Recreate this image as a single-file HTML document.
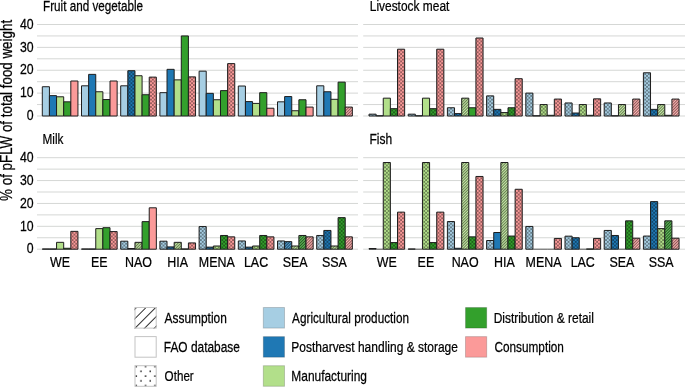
<!DOCTYPE html>
<html><head><meta charset="utf-8"><style>
html,body{margin:0;padding:0;background:#fff;}
svg{display:block;}
text{font-family:"Liberation Sans",sans-serif;fill:#000;stroke:#000;stroke-width:0.25px;}
svg{will-change:transform;}
.g{stroke:#d5d7d5;stroke-width:1;}
.b{fill:none;stroke:#1e1e1e;stroke-width:1;}
</style></head><body>
<svg width="685" height="387" viewBox="0 0 685 387">
<rect width="685" height="387" fill="#fff"/>
<defs>
<pattern id="dots" x="3.6" y="0" width="3.64" height="3.64" patternUnits="userSpaceOnUse">
<circle cx="0" cy="0" r="0.68" fill="#000"/>
<circle cx="3.64" cy="0" r="0.68" fill="#000"/>
<circle cx="0" cy="3.64" r="0.68" fill="#000"/>
<circle cx="3.64" cy="3.64" r="0.68" fill="#000"/>
<circle cx="1.82" cy="1.82" r="0.68" fill="#000"/>
</pattern>
<pattern id="hatch" width="2.0" height="2.0" patternUnits="userSpaceOnUse" patternTransform="rotate(45)">
<rect x="0" y="0" width="0.55" height="2.0" fill="#000" fill-opacity="0.8"/>
<rect x="0.95" y="0" width="0.8" height="2.0" fill="#fff" fill-opacity="0.35"/>
</pattern>
<pattern id="hatchL" x="-3.4" y="0" width="6.8" height="6.8" patternUnits="userSpaceOnUse" patternTransform="translate(134.6,328.6) rotate(45)">
<rect x="2.95" y="0" width="0.9" height="6.8" fill="#1a1a1a"/>
</pattern>
<pattern id="dotsL" x="134.3" y="364.6" width="9.3" height="9.5" patternUnits="userSpaceOnUse">
<circle cx="2" cy="2" r="0.8" fill="#000"/>
<circle cx="6.65" cy="6.75" r="0.8" fill="#000"/>
</pattern>
</defs>
<line x1="37.0" y1="116.00" x2="358.0" y2="116.00" class="g"/>
<line x1="37.0" y1="104.56" x2="358.0" y2="104.56" class="g"/>
<line x1="37.0" y1="93.12" x2="358.0" y2="93.12" class="g"/>
<line x1="37.0" y1="81.69" x2="358.0" y2="81.69" class="g"/>
<line x1="37.0" y1="70.25" x2="358.0" y2="70.25" class="g"/>
<line x1="37.0" y1="58.81" x2="358.0" y2="58.81" class="g"/>
<line x1="37.0" y1="47.38" x2="358.0" y2="47.38" class="g"/>
<line x1="37.0" y1="35.94" x2="358.0" y2="35.94" class="g"/>
<line x1="37.0" y1="24.50" x2="358.0" y2="24.50" class="g"/>
<line x1="363.2" y1="116.00" x2="685.0" y2="116.00" class="g"/>
<line x1="363.2" y1="104.56" x2="685.0" y2="104.56" class="g"/>
<line x1="363.2" y1="93.12" x2="685.0" y2="93.12" class="g"/>
<line x1="363.2" y1="81.69" x2="685.0" y2="81.69" class="g"/>
<line x1="363.2" y1="70.25" x2="685.0" y2="70.25" class="g"/>
<line x1="363.2" y1="58.81" x2="685.0" y2="58.81" class="g"/>
<line x1="363.2" y1="47.38" x2="685.0" y2="47.38" class="g"/>
<line x1="363.2" y1="35.94" x2="685.0" y2="35.94" class="g"/>
<line x1="363.2" y1="24.50" x2="685.0" y2="24.50" class="g"/>
<line x1="37.0" y1="249.20" x2="358.0" y2="249.20" class="g"/>
<line x1="37.0" y1="237.76" x2="358.0" y2="237.76" class="g"/>
<line x1="37.0" y1="226.32" x2="358.0" y2="226.32" class="g"/>
<line x1="37.0" y1="214.89" x2="358.0" y2="214.89" class="g"/>
<line x1="37.0" y1="203.45" x2="358.0" y2="203.45" class="g"/>
<line x1="37.0" y1="192.01" x2="358.0" y2="192.01" class="g"/>
<line x1="37.0" y1="180.57" x2="358.0" y2="180.57" class="g"/>
<line x1="37.0" y1="169.14" x2="358.0" y2="169.14" class="g"/>
<line x1="37.0" y1="157.70" x2="358.0" y2="157.70" class="g"/>
<line x1="363.2" y1="249.20" x2="685.0" y2="249.20" class="g"/>
<line x1="363.2" y1="237.76" x2="685.0" y2="237.76" class="g"/>
<line x1="363.2" y1="226.32" x2="685.0" y2="226.32" class="g"/>
<line x1="363.2" y1="214.89" x2="685.0" y2="214.89" class="g"/>
<line x1="363.2" y1="203.45" x2="685.0" y2="203.45" class="g"/>
<line x1="363.2" y1="192.01" x2="685.0" y2="192.01" class="g"/>
<line x1="363.2" y1="180.57" x2="685.0" y2="180.57" class="g"/>
<line x1="363.2" y1="169.14" x2="685.0" y2="169.14" class="g"/>
<line x1="363.2" y1="157.70" x2="685.0" y2="157.70" class="g"/>
<g transform="translate(42.30,116.00)"><path d="M0,0V-29.28H7.13V0Z" fill="#a6cee3"/><path d="M0,0V-29.28H7.13V0Z" class="b"/></g>
<g transform="translate(49.43,116.00)"><path d="M0,0V-20.36H7.13V0Z" fill="#1f78b4"/><path d="M0,0V-20.36H7.13V0Z" class="b"/></g>
<g transform="translate(56.56,116.00)"><path d="M0,0V-19.21H7.13V0Z" fill="#b2df8a"/><path d="M0,0V-19.21H7.13V0Z" class="b"/></g>
<g transform="translate(63.69,116.00)"><path d="M0,0V-14.18H7.13V0Z" fill="#33a02c"/><path d="M0,0V-14.18H7.13V0Z" class="b"/></g>
<g transform="translate(70.82,116.00)"><path d="M0,0V-35.00H7.13V0Z" fill="#fb9a99"/><path d="M0,0V-35.00H7.13V0Z" class="b"/></g>
<g transform="translate(81.50,116.00)"><path d="M0,0V-30.20H7.13V0Z" fill="#a6cee3"/><path d="M0,0V-30.20H7.13V0Z" class="b"/></g>
<g transform="translate(88.63,116.00)"><path d="M0,0V-41.63H7.13V0Z" fill="#1f78b4"/><path d="M0,0V-41.63H7.13V0Z" class="b"/></g>
<g transform="translate(95.76,116.00)"><path d="M0,0V-24.25H7.13V0Z" fill="#b2df8a"/><path d="M0,0V-24.25H7.13V0Z" class="b"/></g>
<g transform="translate(102.89,116.00)"><path d="M0,0V-16.47H7.13V0Z" fill="#33a02c"/><path d="M0,0V-16.47H7.13V0Z" class="b"/></g>
<g transform="translate(110.02,116.00)"><path d="M0,0V-35.00H7.13V0Z" fill="#fb9a99"/><path d="M0,0V-35.00H7.13V0Z" class="b"/></g>
<g transform="translate(120.70,116.00)"><path d="M0,0V-30.20H7.13V0Z" fill="#a6cee3"/><path d="M0,0V-30.20H7.13V0Z" class="b"/></g>
<g transform="translate(127.83,116.00)"><path d="M0,0V-45.29H7.13V0Z" fill="#1f78b4"/><path d="M0,0V-45.29H7.13V0Z" fill="url(#dots)"/><path d="M0,0V-45.29H7.13V0Z" class="b"/></g>
<g transform="translate(134.96,116.00)"><path d="M0,0V-40.26H7.13V0Z" fill="#b2df8a"/><path d="M0,0V-40.26H7.13V0Z" class="b"/></g>
<g transform="translate(142.09,116.00)"><path d="M0,0V-21.27H7.13V0Z" fill="#33a02c"/><path d="M0,0V-21.27H7.13V0Z" class="b"/></g>
<g transform="translate(149.22,116.00)"><path d="M0,0V-38.89H7.13V0Z" fill="#fb9a99"/><path d="M0,0V-38.89H7.13V0Z" fill="url(#dots)"/><path d="M0,0V-38.89H7.13V0Z" class="b"/></g>
<g transform="translate(159.90,116.00)"><path d="M0,0V-23.33H7.13V0Z" fill="#a6cee3"/><path d="M0,0V-23.33H7.13V0Z" class="b"/></g>
<g transform="translate(167.03,116.00)"><path d="M0,0V-46.66H7.13V0Z" fill="#1f78b4"/><path d="M0,0V-46.66H7.13V0Z" class="b"/></g>
<g transform="translate(174.16,116.00)"><path d="M0,0V-36.14H7.13V0Z" fill="#b2df8a"/><path d="M0,0V-36.14H7.13V0Z" class="b"/></g>
<g transform="translate(181.29,116.00)"><path d="M0,0V-80.06H7.13V0Z" fill="#33a02c"/><path d="M0,0V-80.06H7.13V0Z" class="b"/></g>
<g transform="translate(188.42,116.00)"><path d="M0,0V-39.12H7.13V0Z" fill="#fb9a99"/><path d="M0,0V-39.12H7.13V0Z" fill="url(#dots)"/><path d="M0,0V-39.12H7.13V0Z" class="b"/></g>
<g transform="translate(199.10,116.00)"><path d="M0,0V-44.84H7.13V0Z" fill="#a6cee3"/><path d="M0,0V-44.84H7.13V0Z" class="b"/></g>
<g transform="translate(206.23,116.00)"><path d="M0,0V-22.65H7.13V0Z" fill="#1f78b4"/><path d="M0,0V-22.65H7.13V0Z" class="b"/></g>
<g transform="translate(213.36,116.00)"><path d="M0,0V-16.24H7.13V0Z" fill="#b2df8a"/><path d="M0,0V-16.24H7.13V0Z" class="b"/></g>
<g transform="translate(220.49,116.00)"><path d="M0,0V-25.39H7.13V0Z" fill="#33a02c"/><path d="M0,0V-25.39H7.13V0Z" class="b"/></g>
<g transform="translate(227.62,116.00)"><path d="M0,0V-52.38H7.13V0Z" fill="#fb9a99"/><path d="M0,0V-52.38H7.13V0Z" fill="url(#dots)"/><path d="M0,0V-52.38H7.13V0Z" class="b"/></g>
<g transform="translate(238.30,116.00)"><path d="M0,0V-29.97H7.13V0Z" fill="#a6cee3"/><path d="M0,0V-29.97H7.13V0Z" class="b"/></g>
<g transform="translate(245.43,116.00)"><path d="M0,0V-14.41H7.13V0Z" fill="#1f78b4"/><path d="M0,0V-14.41H7.13V0Z" class="b"/></g>
<g transform="translate(252.56,116.00)"><path d="M0,0V-12.58H7.13V0Z" fill="#b2df8a"/><path d="M0,0V-12.58H7.13V0Z" class="b"/></g>
<g transform="translate(259.69,116.00)"><path d="M0,0V-23.33H7.13V0Z" fill="#33a02c"/><path d="M0,0V-23.33H7.13V0Z" class="b"/></g>
<g transform="translate(266.82,116.00)"><path d="M0,0V-7.78H7.13V0Z" fill="#fb9a99"/><path d="M0,0V-7.78H7.13V0Z" class="b"/></g>
<g transform="translate(277.50,116.00)"><path d="M0,0V-14.18H7.13V0Z" fill="#a6cee3"/><path d="M0,0V-14.18H7.13V0Z" class="b"/></g>
<g transform="translate(284.63,116.00)"><path d="M0,0V-19.44H7.13V0Z" fill="#1f78b4"/><path d="M0,0V-19.44H7.13V0Z" class="b"/></g>
<g transform="translate(291.76,116.00)"><path d="M0,0V-5.26H7.13V0Z" fill="#b2df8a"/><path d="M0,0V-5.26H7.13V0Z" class="b"/></g>
<g transform="translate(298.89,116.00)"><path d="M0,0V-16.24H7.13V0Z" fill="#33a02c"/><path d="M0,0V-16.24H7.13V0Z" class="b"/></g>
<g transform="translate(306.02,116.00)"><path d="M0,0V-8.92H7.13V0Z" fill="#fb9a99"/><path d="M0,0V-8.92H7.13V0Z" class="b"/></g>
<g transform="translate(316.70,116.00)"><path d="M0,0V-30.20H7.13V0Z" fill="#a6cee3"/><path d="M0,0V-30.20H7.13V0Z" class="b"/></g>
<g transform="translate(323.83,116.00)"><path d="M0,0V-24.25H7.13V0Z" fill="#1f78b4"/><path d="M0,0V-24.25H7.13V0Z" class="b"/></g>
<g transform="translate(330.96,116.00)"><path d="M0,0V-16.70H7.13V0Z" fill="#b2df8a"/><path d="M0,0V-16.70H7.13V0Z" class="b"/></g>
<g transform="translate(338.09,116.00)"><path d="M0,0V-33.86H7.13V0Z" fill="#33a02c"/><path d="M0,0V-33.86H7.13V0Z" class="b"/></g>
<g transform="translate(345.22,116.00)"><path d="M0,0V-8.92H7.13V0Z" fill="#fb9a99"/><path d="M0,0V-8.92H7.13V0Z" fill="url(#hatch)"/><path d="M0,0V-8.92H7.13V0Z" class="b"/></g>
<g transform="translate(369.00,116.00)"><path d="M0,0V-1.83H7.13V0Z" fill="#a6cee3"/><path d="M0,0V-1.83H7.13V0Z" fill="url(#dots)"/><path d="M0,0V-1.83H7.13V0Z" class="b"/></g>
<g transform="translate(376.13,116.00)"><path d="M0,0V-0.23H7.13V0Z" fill="#1f78b4"/><path d="M0,0V-0.23H7.13V0Z" class="b"/></g>
<g transform="translate(383.26,116.00)"><path d="M0,0V-17.84H7.13V0Z" fill="#b2df8a"/><path d="M0,0V-17.84H7.13V0Z" class="b"/></g>
<g transform="translate(390.39,116.00)"><path d="M0,0V-7.32H7.13V0Z" fill="#33a02c"/><path d="M0,0V-7.32H7.13V0Z" fill="url(#dots)"/><path d="M0,0V-7.32H7.13V0Z" class="b"/></g>
<g transform="translate(397.52,116.00)"><path d="M0,0V-66.80H7.13V0Z" fill="#fb9a99"/><path d="M0,0V-66.80H7.13V0Z" fill="url(#dots)"/><path d="M0,0V-66.80H7.13V0Z" class="b"/></g>
<g transform="translate(408.20,116.00)"><path d="M0,0V-1.83H7.13V0Z" fill="#a6cee3"/><path d="M0,0V-1.83H7.13V0Z" fill="url(#dots)"/><path d="M0,0V-1.83H7.13V0Z" class="b"/></g>
<g transform="translate(415.33,116.00)"><path d="M0,0V-0.23H7.13V0Z" fill="#1f78b4"/><path d="M0,0V-0.23H7.13V0Z" class="b"/></g>
<g transform="translate(422.46,116.00)"><path d="M0,0V-17.84H7.13V0Z" fill="#b2df8a"/><path d="M0,0V-17.84H7.13V0Z" class="b"/></g>
<g transform="translate(429.59,116.00)"><path d="M0,0V-7.32H7.13V0Z" fill="#33a02c"/><path d="M0,0V-7.32H7.13V0Z" fill="url(#dots)"/><path d="M0,0V-7.32H7.13V0Z" class="b"/></g>
<g transform="translate(436.72,116.00)"><path d="M0,0V-66.80H7.13V0Z" fill="#fb9a99"/><path d="M0,0V-66.80H7.13V0Z" fill="url(#dots)"/><path d="M0,0V-66.80H7.13V0Z" class="b"/></g>
<g transform="translate(447.40,116.00)"><path d="M0,0V-8.24H7.13V0Z" fill="#a6cee3"/><path d="M0,0V-8.24H7.13V0Z" fill="url(#dots)"/><path d="M0,0V-8.24H7.13V0Z" class="b"/></g>
<g transform="translate(454.53,116.00)"><path d="M0,0V-2.40H7.13V0Z" fill="#1f78b4"/><path d="M0,0V-2.40H7.13V0Z" fill="url(#dots)"/><path d="M0,0V-2.40H7.13V0Z" class="b"/></g>
<g transform="translate(461.66,116.00)"><path d="M0,0V-17.84H7.13V0Z" fill="#b2df8a"/><path d="M0,0V-17.84H7.13V0Z" fill="url(#hatch)"/><path d="M0,0V-17.84H7.13V0Z" class="b"/></g>
<g transform="translate(468.79,116.00)"><path d="M0,0V-8.24H7.13V0Z" fill="#33a02c"/><path d="M0,0V-8.24H7.13V0Z" class="b"/></g>
<g transform="translate(475.92,116.00)"><path d="M0,0V-78.00H7.13V0Z" fill="#fb9a99"/><path d="M0,0V-78.00H7.13V0Z" fill="url(#dots)"/><path d="M0,0V-78.00H7.13V0Z" class="b"/></g>
<g transform="translate(486.60,116.00)"><path d="M0,0V-20.13H7.13V0Z" fill="#a6cee3"/><path d="M0,0V-20.13H7.13V0Z" fill="url(#dots)"/><path d="M0,0V-20.13H7.13V0Z" class="b"/></g>
<g transform="translate(493.73,116.00)"><path d="M0,0V-6.63H7.13V0Z" fill="#1f78b4"/><path d="M0,0V-6.63H7.13V0Z" fill="url(#dots)"/><path d="M0,0V-6.63H7.13V0Z" class="b"/></g>
<g transform="translate(500.86,116.00)"><path d="M0,0V-3.43H7.13V0Z" fill="#b2df8a"/><path d="M0,0V-3.43H7.13V0Z" fill="url(#dots)"/><path d="M0,0V-3.43H7.13V0Z" class="b"/></g>
<g transform="translate(507.99,116.00)"><path d="M0,0V-8.24H7.13V0Z" fill="#33a02c"/><path d="M0,0V-8.24H7.13V0Z" fill="url(#dots)"/><path d="M0,0V-8.24H7.13V0Z" class="b"/></g>
<g transform="translate(515.12,116.00)"><path d="M0,0V-37.29H7.13V0Z" fill="#fb9a99"/><path d="M0,0V-37.29H7.13V0Z" fill="url(#dots)"/><path d="M0,0V-37.29H7.13V0Z" class="b"/></g>
<g transform="translate(525.80,116.00)"><path d="M0,0V-22.88H7.13V0Z" fill="#a6cee3"/><path d="M0,0V-22.88H7.13V0Z" fill="url(#dots)"/><path d="M0,0V-22.88H7.13V0Z" class="b"/></g>
<g transform="translate(532.93,116.00)"><path d="M0,0V-0.23H7.13V0Z" fill="#1f78b4"/><path d="M0,0V-0.23H7.13V0Z" class="b"/></g>
<g transform="translate(540.06,116.00)"><path d="M0,0V-11.44H7.13V0Z" fill="#b2df8a"/><path d="M0,0V-11.44H7.13V0Z" fill="url(#dots)"/><path d="M0,0V-11.44H7.13V0Z" class="b"/></g>
<g transform="translate(547.19,116.00)"><path d="M0,0V-0.69H7.13V0Z" fill="#33a02c"/><path d="M0,0V-0.69H7.13V0Z" class="b"/></g>
<g transform="translate(554.32,116.00)"><path d="M0,0V-16.93H7.13V0Z" fill="#fb9a99"/><path d="M0,0V-16.93H7.13V0Z" fill="url(#dots)"/><path d="M0,0V-16.93H7.13V0Z" class="b"/></g>
<g transform="translate(565.00,116.00)"><path d="M0,0V-13.04H7.13V0Z" fill="#a6cee3"/><path d="M0,0V-13.04H7.13V0Z" fill="url(#dots)"/><path d="M0,0V-13.04H7.13V0Z" class="b"/></g>
<g transform="translate(572.13,116.00)"><path d="M0,0V-2.97H7.13V0Z" fill="#1f78b4"/><path d="M0,0V-2.97H7.13V0Z" fill="url(#dots)"/><path d="M0,0V-2.97H7.13V0Z" class="b"/></g>
<g transform="translate(579.26,116.00)"><path d="M0,0V-11.44H7.13V0Z" fill="#b2df8a"/><path d="M0,0V-11.44H7.13V0Z" fill="url(#dots)"/><path d="M0,0V-11.44H7.13V0Z" class="b"/></g>
<g transform="translate(586.39,116.00)"><path d="M0,0V-0.69H7.13V0Z" fill="#33a02c"/><path d="M0,0V-0.69H7.13V0Z" class="b"/></g>
<g transform="translate(593.52,116.00)"><path d="M0,0V-17.16H7.13V0Z" fill="#fb9a99"/><path d="M0,0V-17.16H7.13V0Z" fill="url(#dots)"/><path d="M0,0V-17.16H7.13V0Z" class="b"/></g>
<g transform="translate(604.20,116.00)"><path d="M0,0V-13.04H7.13V0Z" fill="#a6cee3"/><path d="M0,0V-13.04H7.13V0Z" fill="url(#dots)"/><path d="M0,0V-13.04H7.13V0Z" class="b"/></g>
<g transform="translate(611.33,116.00)"><path d="M0,0V-0.23H7.13V0Z" fill="#1f78b4"/><path d="M0,0V-0.23H7.13V0Z" class="b"/></g>
<g transform="translate(618.46,116.00)"><path d="M0,0V-11.44H7.13V0Z" fill="#b2df8a"/><path d="M0,0V-11.44H7.13V0Z" fill="url(#hatch)"/><path d="M0,0V-11.44H7.13V0Z" class="b"/></g>
<g transform="translate(625.59,116.00)"><path d="M0,0V-0.69H7.13V0Z" fill="#33a02c"/><path d="M0,0V-0.69H7.13V0Z" class="b"/></g>
<g transform="translate(632.72,116.00)"><path d="M0,0V-16.93H7.13V0Z" fill="#fb9a99"/><path d="M0,0V-16.93H7.13V0Z" fill="url(#hatch)"/><path d="M0,0V-16.93H7.13V0Z" class="b"/></g>
<g transform="translate(643.40,116.00)"><path d="M0,0V-43.23H7.13V0Z" fill="#a6cee3"/><path d="M0,0V-43.23H7.13V0Z" fill="url(#dots)"/><path d="M0,0V-43.23H7.13V0Z" class="b"/></g>
<g transform="translate(650.53,116.00)"><path d="M0,0V-6.63H7.13V0Z" fill="#1f78b4"/><path d="M0,0V-6.63H7.13V0Z" fill="url(#dots)"/><path d="M0,0V-6.63H7.13V0Z" class="b"/></g>
<g transform="translate(657.66,116.00)"><path d="M0,0V-11.44H7.13V0Z" fill="#b2df8a"/><path d="M0,0V-11.44H7.13V0Z" fill="url(#hatch)"/><path d="M0,0V-11.44H7.13V0Z" class="b"/></g>
<g transform="translate(664.79,116.00)"><path d="M0,0V-0.69H7.13V0Z" fill="#33a02c"/><path d="M0,0V-0.69H7.13V0Z" class="b"/></g>
<g transform="translate(671.92,116.00)"><path d="M0,0V-16.93H7.13V0Z" fill="#fb9a99"/><path d="M0,0V-16.93H7.13V0Z" fill="url(#hatch)"/><path d="M0,0V-16.93H7.13V0Z" class="b"/></g>
<g transform="translate(42.30,249.20)"><path d="M0,0V-0.23H7.13V0Z" fill="#a6cee3"/><path d="M0,0V-0.23H7.13V0Z" class="b"/></g>
<g transform="translate(49.43,249.20)"><path d="M0,0V-0.23H7.13V0Z" fill="#1f78b4"/><path d="M0,0V-0.23H7.13V0Z" class="b"/></g>
<g transform="translate(56.56,249.20)"><path d="M0,0V-6.86H7.13V0Z" fill="#b2df8a"/><path d="M0,0V-6.86H7.13V0Z" class="b"/></g>
<g transform="translate(63.69,249.20)"><path d="M0,0V-0.92H7.13V0Z" fill="#33a02c"/><path d="M0,0V-0.92H7.13V0Z" class="b"/></g>
<g transform="translate(70.82,249.20)"><path d="M0,0V-17.84H7.13V0Z" fill="#fb9a99"/><path d="M0,0V-17.84H7.13V0Z" fill="url(#dots)"/><path d="M0,0V-17.84H7.13V0Z" class="b"/></g>
<g transform="translate(81.50,249.20)"><path d="M0,0V-0.23H7.13V0Z" fill="#a6cee3"/><path d="M0,0V-0.23H7.13V0Z" class="b"/></g>
<g transform="translate(88.63,249.20)"><path d="M0,0V-0.23H7.13V0Z" fill="#1f78b4"/><path d="M0,0V-0.23H7.13V0Z" class="b"/></g>
<g transform="translate(95.76,249.20)"><path d="M0,0V-20.59H7.13V0Z" fill="#b2df8a"/><path d="M0,0V-20.59H7.13V0Z" class="b"/></g>
<g transform="translate(102.89,249.20)"><path d="M0,0V-21.50H7.13V0Z" fill="#33a02c"/><path d="M0,0V-21.50H7.13V0Z" class="b"/></g>
<g transform="translate(110.02,249.20)"><path d="M0,0V-17.61H7.13V0Z" fill="#fb9a99"/><path d="M0,0V-17.61H7.13V0Z" fill="url(#dots)"/><path d="M0,0V-17.61H7.13V0Z" class="b"/></g>
<g transform="translate(120.70,249.20)"><path d="M0,0V-8.01H7.13V0Z" fill="#a6cee3"/><path d="M0,0V-8.01H7.13V0Z" fill="url(#dots)"/><path d="M0,0V-8.01H7.13V0Z" class="b"/></g>
<g transform="translate(127.83,249.20)"><path d="M0,0V-0.69H7.13V0Z" fill="#1f78b4"/><path d="M0,0V-0.69H7.13V0Z" class="b"/></g>
<g transform="translate(134.96,249.20)"><path d="M0,0V-6.86H7.13V0Z" fill="#b2df8a"/><path d="M0,0V-6.86H7.13V0Z" fill="url(#hatch)"/><path d="M0,0V-6.86H7.13V0Z" class="b"/></g>
<g transform="translate(142.09,249.20)"><path d="M0,0V-27.56H7.13V0Z" fill="#33a02c"/><path d="M0,0V-27.56H7.13V0Z" class="b"/></g>
<g transform="translate(149.22,249.20)"><path d="M0,0V-41.40H7.13V0Z" fill="#fb9a99"/><path d="M0,0V-41.40H7.13V0Z" class="b"/></g>
<g transform="translate(159.90,249.20)"><path d="M0,0V-8.01H7.13V0Z" fill="#a6cee3"/><path d="M0,0V-8.01H7.13V0Z" fill="url(#dots)"/><path d="M0,0V-8.01H7.13V0Z" class="b"/></g>
<g transform="translate(167.03,249.20)"><path d="M0,0V-2.29H7.13V0Z" fill="#1f78b4"/><path d="M0,0V-2.29H7.13V0Z" fill="url(#dots)"/><path d="M0,0V-2.29H7.13V0Z" class="b"/></g>
<g transform="translate(174.16,249.20)"><path d="M0,0V-6.86H7.13V0Z" fill="#b2df8a"/><path d="M0,0V-6.86H7.13V0Z" fill="url(#hatch)"/><path d="M0,0V-6.86H7.13V0Z" class="b"/></g>
<g transform="translate(181.29,249.20)"><path d="M0,0V-0.23H7.13V0Z" fill="#33a02c"/><path d="M0,0V-0.23H7.13V0Z" class="b"/></g>
<g transform="translate(188.42,249.20)"><path d="M0,0V-6.29H7.13V0Z" fill="#fb9a99"/><path d="M0,0V-6.29H7.13V0Z" fill="url(#dots)"/><path d="M0,0V-6.29H7.13V0Z" class="b"/></g>
<g transform="translate(199.10,249.20)"><path d="M0,0V-22.65H7.13V0Z" fill="#a6cee3"/><path d="M0,0V-22.65H7.13V0Z" fill="url(#dots)"/><path d="M0,0V-22.65H7.13V0Z" class="b"/></g>
<g transform="translate(206.23,249.20)"><path d="M0,0V-2.06H7.13V0Z" fill="#1f78b4"/><path d="M0,0V-2.06H7.13V0Z" fill="url(#dots)"/><path d="M0,0V-2.06H7.13V0Z" class="b"/></g>
<g transform="translate(213.36,249.20)"><path d="M0,0V-3.20H7.13V0Z" fill="#b2df8a"/><path d="M0,0V-3.20H7.13V0Z" fill="url(#dots)"/><path d="M0,0V-3.20H7.13V0Z" class="b"/></g>
<g transform="translate(220.49,249.20)"><path d="M0,0V-13.73H7.13V0Z" fill="#33a02c"/><path d="M0,0V-13.73H7.13V0Z" fill="url(#dots)"/><path d="M0,0V-13.73H7.13V0Z" class="b"/></g>
<g transform="translate(227.62,249.20)"><path d="M0,0V-12.35H7.13V0Z" fill="#fb9a99"/><path d="M0,0V-12.35H7.13V0Z" fill="url(#dots)"/><path d="M0,0V-12.35H7.13V0Z" class="b"/></g>
<g transform="translate(238.30,249.20)"><path d="M0,0V-8.24H7.13V0Z" fill="#a6cee3"/><path d="M0,0V-8.24H7.13V0Z" fill="url(#dots)"/><path d="M0,0V-8.24H7.13V0Z" class="b"/></g>
<g transform="translate(245.43,249.20)"><path d="M0,0V-2.06H7.13V0Z" fill="#1f78b4"/><path d="M0,0V-2.06H7.13V0Z" fill="url(#dots)"/><path d="M0,0V-2.06H7.13V0Z" class="b"/></g>
<g transform="translate(252.56,249.20)"><path d="M0,0V-3.20H7.13V0Z" fill="#b2df8a"/><path d="M0,0V-3.20H7.13V0Z" fill="url(#dots)"/><path d="M0,0V-3.20H7.13V0Z" class="b"/></g>
<g transform="translate(259.69,249.20)"><path d="M0,0V-13.73H7.13V0Z" fill="#33a02c"/><path d="M0,0V-13.73H7.13V0Z" fill="url(#dots)"/><path d="M0,0V-13.73H7.13V0Z" class="b"/></g>
<g transform="translate(266.82,249.20)"><path d="M0,0V-12.35H7.13V0Z" fill="#fb9a99"/><path d="M0,0V-12.35H7.13V0Z" fill="url(#dots)"/><path d="M0,0V-12.35H7.13V0Z" class="b"/></g>
<g transform="translate(277.50,249.20)"><path d="M0,0V-8.24H7.13V0Z" fill="#a6cee3"/><path d="M0,0V-8.24H7.13V0Z" fill="url(#dots)"/><path d="M0,0V-8.24H7.13V0Z" class="b"/></g>
<g transform="translate(284.63,249.20)"><path d="M0,0V-7.55H7.13V0Z" fill="#1f78b4"/><path d="M0,0V-7.55H7.13V0Z" fill="url(#hatch)"/><path d="M0,0V-7.55H7.13V0Z" class="b"/></g>
<g transform="translate(291.76,249.20)"><path d="M0,0V-3.20H7.13V0Z" fill="#b2df8a"/><path d="M0,0V-3.20H7.13V0Z" fill="url(#hatch)"/><path d="M0,0V-3.20H7.13V0Z" class="b"/></g>
<g transform="translate(298.89,249.20)"><path d="M0,0V-13.73H7.13V0Z" fill="#33a02c"/><path d="M0,0V-13.73H7.13V0Z" fill="url(#hatch)"/><path d="M0,0V-13.73H7.13V0Z" class="b"/></g>
<g transform="translate(306.02,249.20)"><path d="M0,0V-12.35H7.13V0Z" fill="#fb9a99"/><path d="M0,0V-12.35H7.13V0Z" fill="url(#hatch)"/><path d="M0,0V-12.35H7.13V0Z" class="b"/></g>
<g transform="translate(316.70,249.20)"><path d="M0,0V-13.73H7.13V0Z" fill="#a6cee3"/><path d="M0,0V-13.73H7.13V0Z" fill="url(#dots)"/><path d="M0,0V-13.73H7.13V0Z" class="b"/></g>
<g transform="translate(323.83,249.20)"><path d="M0,0V-18.76H7.13V0Z" fill="#1f78b4"/><path d="M0,0V-18.76H7.13V0Z" fill="url(#dots)"/><path d="M0,0V-18.76H7.13V0Z" class="b"/></g>
<g transform="translate(330.96,249.20)"><path d="M0,0V-3.20H7.13V0Z" fill="#b2df8a"/><path d="M0,0V-3.20H7.13V0Z" fill="url(#hatch)"/><path d="M0,0V-3.20H7.13V0Z" class="b"/></g>
<g transform="translate(338.09,249.20)"><path d="M0,0V-31.57H7.13V0Z" fill="#33a02c"/><path d="M0,0V-31.57H7.13V0Z" fill="url(#dots)"/><path d="M0,0V-31.57H7.13V0Z" class="b"/></g>
<g transform="translate(345.22,249.20)"><path d="M0,0V-12.35H7.13V0Z" fill="#fb9a99"/><path d="M0,0V-12.35H7.13V0Z" fill="url(#hatch)"/><path d="M0,0V-12.35H7.13V0Z" class="b"/></g>
<g transform="translate(369.00,249.20)"><path d="M0,0V-0.69H7.13V0Z" fill="#a6cee3"/><path d="M0,0V-0.69H7.13V0Z" fill="url(#dots)"/><path d="M0,0V-0.69H7.13V0Z" class="b"/></g>
<path d="M376.13,249.20H383.26" stroke="#5a5a5a" stroke-width="1" fill="none"/>
<g transform="translate(383.26,249.20)"><path d="M0,0V-86.70H7.13V0Z" fill="#b2df8a"/><path d="M0,0V-86.70H7.13V0Z" fill="url(#dots)"/><path d="M0,0V-86.70H7.13V0Z" class="b"/></g>
<g transform="translate(390.39,249.20)"><path d="M0,0V-6.63H7.13V0Z" fill="#33a02c"/><path d="M0,0V-6.63H7.13V0Z" fill="url(#dots)"/><path d="M0,0V-6.63H7.13V0Z" class="b"/></g>
<g transform="translate(397.52,249.20)"><path d="M0,0V-37.06H7.13V0Z" fill="#fb9a99"/><path d="M0,0V-37.06H7.13V0Z" fill="url(#dots)"/><path d="M0,0V-37.06H7.13V0Z" class="b"/></g>
<g transform="translate(408.20,249.20)"><path d="M0,0V-0.23H7.13V0Z" fill="#a6cee3"/><path d="M0,0V-0.23H7.13V0Z" class="b"/></g>
<path d="M415.33,249.20H422.46" stroke="#5a5a5a" stroke-width="1" fill="none"/>
<g transform="translate(422.46,249.20)"><path d="M0,0V-86.70H7.13V0Z" fill="#b2df8a"/><path d="M0,0V-86.70H7.13V0Z" fill="url(#dots)"/><path d="M0,0V-86.70H7.13V0Z" class="b"/></g>
<g transform="translate(429.59,249.20)"><path d="M0,0V-6.63H7.13V0Z" fill="#33a02c"/><path d="M0,0V-6.63H7.13V0Z" fill="url(#dots)"/><path d="M0,0V-6.63H7.13V0Z" class="b"/></g>
<g transform="translate(436.72,249.20)"><path d="M0,0V-37.06H7.13V0Z" fill="#fb9a99"/><path d="M0,0V-37.06H7.13V0Z" fill="url(#dots)"/><path d="M0,0V-37.06H7.13V0Z" class="b"/></g>
<g transform="translate(447.40,249.20)"><path d="M0,0V-27.68H7.13V0Z" fill="#a6cee3"/><path d="M0,0V-27.68H7.13V0Z" fill="url(#dots)"/><path d="M0,0V-27.68H7.13V0Z" class="b"/></g>
<g transform="translate(454.53,249.20)"><path d="M0,0V-0.92H7.13V0Z" fill="#1f78b4"/><path d="M0,0V-0.92H7.13V0Z" class="b"/></g>
<g transform="translate(461.66,249.20)"><path d="M0,0V-86.70H7.13V0Z" fill="#b2df8a"/><path d="M0,0V-86.70H7.13V0Z" fill="url(#hatch)"/><path d="M0,0V-86.70H7.13V0Z" class="b"/></g>
<g transform="translate(468.79,249.20)"><path d="M0,0V-12.35H7.13V0Z" fill="#33a02c"/><path d="M0,0V-12.35H7.13V0Z" fill="url(#dots)"/><path d="M0,0V-12.35H7.13V0Z" class="b"/></g>
<g transform="translate(475.92,249.20)"><path d="M0,0V-72.74H7.13V0Z" fill="#fb9a99"/><path d="M0,0V-72.74H7.13V0Z" fill="url(#dots)"/><path d="M0,0V-72.74H7.13V0Z" class="b"/></g>
<g transform="translate(486.60,249.20)"><path d="M0,0V-8.69H7.13V0Z" fill="#a6cee3"/><path d="M0,0V-8.69H7.13V0Z" fill="url(#dots)"/><path d="M0,0V-8.69H7.13V0Z" class="b"/></g>
<g transform="translate(493.73,249.20)"><path d="M0,0V-16.70H7.13V0Z" fill="#1f78b4"/><path d="M0,0V-16.70H7.13V0Z" class="b"/></g>
<g transform="translate(500.86,249.20)"><path d="M0,0V-86.70H7.13V0Z" fill="#b2df8a"/><path d="M0,0V-86.70H7.13V0Z" fill="url(#hatch)"/><path d="M0,0V-86.70H7.13V0Z" class="b"/></g>
<g transform="translate(507.99,249.20)"><path d="M0,0V-13.15H7.13V0Z" fill="#33a02c"/><path d="M0,0V-13.15H7.13V0Z" fill="url(#dots)"/><path d="M0,0V-13.15H7.13V0Z" class="b"/></g>
<g transform="translate(515.12,249.20)"><path d="M0,0V-59.93H7.13V0Z" fill="#fb9a99"/><path d="M0,0V-59.93H7.13V0Z" fill="url(#dots)"/><path d="M0,0V-59.93H7.13V0Z" class="b"/></g>
<g transform="translate(525.80,249.20)"><path d="M0,0V-22.76H7.13V0Z" fill="#a6cee3"/><path d="M0,0V-22.76H7.13V0Z" fill="url(#dots)"/><path d="M0,0V-22.76H7.13V0Z" class="b"/></g>
<path d="M532.93,249.20H540.06" stroke="#5a5a5a" stroke-width="1" fill="none"/>
<path d="M540.06,249.20H547.19" stroke="#5a5a5a" stroke-width="1" fill="none"/>
<path d="M547.19,249.20H554.32" stroke="#5a5a5a" stroke-width="1" fill="none"/>
<g transform="translate(554.32,249.20)"><path d="M0,0V-10.75H7.13V0Z" fill="#fb9a99"/><path d="M0,0V-10.75H7.13V0Z" fill="url(#dots)"/><path d="M0,0V-10.75H7.13V0Z" class="b"/></g>
<g transform="translate(565.00,249.20)"><path d="M0,0V-13.04H7.13V0Z" fill="#a6cee3"/><path d="M0,0V-13.04H7.13V0Z" fill="url(#dots)"/><path d="M0,0V-13.04H7.13V0Z" class="b"/></g>
<g transform="translate(572.13,249.20)"><path d="M0,0V-11.44H7.13V0Z" fill="#1f78b4"/><path d="M0,0V-11.44H7.13V0Z" fill="url(#dots)"/><path d="M0,0V-11.44H7.13V0Z" class="b"/></g>
<path d="M579.26,249.20H586.39" stroke="#5a5a5a" stroke-width="1" fill="none"/>
<g transform="translate(586.39,249.20)"><path d="M0,0V-0.23H7.13V0Z" fill="#33a02c"/><path d="M0,0V-0.23H7.13V0Z" class="b"/></g>
<g transform="translate(593.52,249.20)"><path d="M0,0V-10.75H7.13V0Z" fill="#fb9a99"/><path d="M0,0V-10.75H7.13V0Z" fill="url(#dots)"/><path d="M0,0V-10.75H7.13V0Z" class="b"/></g>
<g transform="translate(604.20,249.20)"><path d="M0,0V-18.76H7.13V0Z" fill="#a6cee3"/><path d="M0,0V-18.76H7.13V0Z" fill="url(#dots)"/><path d="M0,0V-18.76H7.13V0Z" class="b"/></g>
<g transform="translate(611.33,249.20)"><path d="M0,0V-13.73H7.13V0Z" fill="#1f78b4"/><path d="M0,0V-13.73H7.13V0Z" fill="url(#dots)"/><path d="M0,0V-13.73H7.13V0Z" class="b"/></g>
<path d="M618.46,249.20H625.59" stroke="#5a5a5a" stroke-width="1" fill="none"/>
<g transform="translate(625.59,249.20)"><path d="M0,0V-28.37H7.13V0Z" fill="#33a02c"/><path d="M0,0V-28.37H7.13V0Z" fill="url(#dots)"/><path d="M0,0V-28.37H7.13V0Z" class="b"/></g>
<g transform="translate(632.72,249.20)"><path d="M0,0V-10.98H7.13V0Z" fill="#fb9a99"/><path d="M0,0V-10.98H7.13V0Z" fill="url(#hatch)"/><path d="M0,0V-10.98H7.13V0Z" class="b"/></g>
<g transform="translate(643.40,249.20)"><path d="M0,0V-13.15H7.13V0Z" fill="#a6cee3"/><path d="M0,0V-13.15H7.13V0Z" fill="url(#dots)"/><path d="M0,0V-13.15H7.13V0Z" class="b"/></g>
<g transform="translate(650.53,249.20)"><path d="M0,0V-47.58H7.13V0Z" fill="#1f78b4"/><path d="M0,0V-47.58H7.13V0Z" fill="url(#dots)"/><path d="M0,0V-47.58H7.13V0Z" class="b"/></g>
<g transform="translate(657.66,249.20)"><path d="M0,0V-20.59H7.13V0Z" fill="#b2df8a"/><path d="M0,0V-20.59H7.13V0Z" fill="url(#dots)"/><path d="M0,0V-20.59H7.13V0Z" class="b"/></g>
<g transform="translate(664.79,249.20)"><path d="M0,0V-28.37H7.13V0Z" fill="#33a02c"/><path d="M0,0V-28.37H7.13V0Z" fill="url(#hatch)"/><path d="M0,0V-28.37H7.13V0Z" class="b"/></g>
<g transform="translate(671.92,249.20)"><path d="M0,0V-10.98H7.13V0Z" fill="#fb9a99"/><path d="M0,0V-10.98H7.13V0Z" fill="url(#hatch)"/><path d="M0,0V-10.98H7.13V0Z" class="b"/></g>
<text transform="translate(33.60,120.20) scale(0.8200,1)" font-size="15" text-anchor="end" class="n">0</text>
<text transform="translate(33.60,97.33) scale(0.8200,1)" font-size="15" text-anchor="end" class="n">10</text>
<text transform="translate(33.60,74.45) scale(0.8200,1)" font-size="15" text-anchor="end" class="n">20</text>
<text transform="translate(33.60,51.58) scale(0.8200,1)" font-size="15" text-anchor="end" class="n">30</text>
<text transform="translate(33.60,28.70) scale(0.8200,1)" font-size="15" text-anchor="end" class="n">40</text>
<text transform="translate(33.60,253.40) scale(0.8200,1)" font-size="15" text-anchor="end" class="n">0</text>
<text transform="translate(33.60,230.52) scale(0.8200,1)" font-size="15" text-anchor="end" class="n">10</text>
<text transform="translate(33.60,207.65) scale(0.8200,1)" font-size="15" text-anchor="end" class="n">20</text>
<text transform="translate(33.60,184.77) scale(0.8200,1)" font-size="15" text-anchor="end" class="n">30</text>
<text transform="translate(33.60,161.90) scale(0.8200,1)" font-size="15" text-anchor="end" class="n">40</text>
<text transform="translate(60.02,267.40) scale(0.8300,1)" font-size="15" text-anchor="middle" class="n">WE</text>
<text transform="translate(99.23,267.40) scale(0.8300,1)" font-size="15" text-anchor="middle" class="n">EE</text>
<text transform="translate(138.43,267.40) scale(0.8300,1)" font-size="15" text-anchor="middle" class="n">NAO</text>
<text transform="translate(177.62,267.40) scale(0.8300,1)" font-size="15" text-anchor="middle" class="n">HIA</text>
<text transform="translate(216.83,267.40) scale(0.8300,1)" font-size="15" text-anchor="middle" class="n">MENA</text>
<text transform="translate(256.02,267.40) scale(0.8300,1)" font-size="15" text-anchor="middle" class="n">LAC</text>
<text transform="translate(295.22,267.40) scale(0.8300,1)" font-size="15" text-anchor="middle" class="n">SEA</text>
<text transform="translate(334.43,267.40) scale(0.8300,1)" font-size="15" text-anchor="middle" class="n">SSA</text>
<text transform="translate(386.72,267.40) scale(0.8300,1)" font-size="15" text-anchor="middle" class="n">WE</text>
<text transform="translate(425.92,267.40) scale(0.8300,1)" font-size="15" text-anchor="middle" class="n">EE</text>
<text transform="translate(465.12,267.40) scale(0.8300,1)" font-size="15" text-anchor="middle" class="n">NAO</text>
<text transform="translate(504.32,267.40) scale(0.8300,1)" font-size="15" text-anchor="middle" class="n">HIA</text>
<text transform="translate(543.52,267.40) scale(0.8300,1)" font-size="15" text-anchor="middle" class="n">MENA</text>
<text transform="translate(582.73,267.40) scale(0.8300,1)" font-size="15" text-anchor="middle" class="n">LAC</text>
<text transform="translate(621.93,267.40) scale(0.8300,1)" font-size="15" text-anchor="middle" class="n">SEA</text>
<text transform="translate(661.13,267.40) scale(0.8300,1)" font-size="15" text-anchor="middle" class="n">SSA</text>
<text transform="translate(43.00,10.90) scale(0.7806,1)" font-size="15" text-anchor="start" class="n">Fruit and vegetable</text>
<text transform="translate(369.76,10.90) scale(0.7960,1)" font-size="15" text-anchor="start" class="n">Livestock meat</text>
<text transform="translate(42.60,144.00) scale(0.7827,1)" font-size="15" text-anchor="start" class="n">Milk</text>
<text transform="translate(369.50,144.00) scale(0.8000,1)" font-size="15" text-anchor="start" class="n">Fish</text>
<text transform="translate(12.1,110.4) rotate(-90)" x="0" y="0" font-size="16.5" text-anchor="middle" textLength="181" lengthAdjust="spacingAndGlyphs">% of pFLW of total food weight</text>
<rect x="134.5" y="307.0" width="22.2" height="21.6" fill="#fff"/>
<rect x="134.5" y="307.0" width="22.2" height="21.6" fill="url(#hatchL)"/>
<rect x="135.0" y="307.5" width="21.2" height="20.6" fill="none" stroke="#c4c4c4" stroke-width="1"/>
<text transform="translate(164.60,322.80) scale(0.7944,1)" font-size="15" text-anchor="start" class="n">Assumption</text>
<rect x="135.0" y="336.6" width="21.2" height="20.6" fill="#fff" stroke="#c4c4c4" stroke-width="1"/>
<text transform="translate(163.80,351.90) scale(0.7948,1)" font-size="15" text-anchor="start" class="n">FAO database</text>
<rect x="134.5" y="365.2" width="22.2" height="21.6" fill="#fff"/>
<rect x="134.5" y="365.2" width="22.2" height="21.6" fill="url(#dotsL)"/>
<rect x="135.0" y="365.7" width="21.2" height="20.6" fill="none" stroke="#c4c4c4" stroke-width="1"/>
<text transform="translate(164.60,381.00) scale(0.7778,1)" font-size="15" text-anchor="start" class="n">Other</text>
<rect x="263.3" y="307.5" width="21.2" height="20.6" fill="#a6cee3" stroke="rgba(0,0,0,0.18)" stroke-width="1"/>
<text transform="translate(292.10,322.80) scale(0.7837,1)" font-size="15" text-anchor="start" class="n">Agricultural production</text>
<rect x="263.3" y="336.6" width="21.2" height="20.6" fill="#1f78b4" stroke="rgba(0,0,0,0.18)" stroke-width="1"/>
<text transform="translate(291.30,351.90) scale(0.7996,1)" font-size="15" text-anchor="start" class="n">Postharvest handling &amp; storage</text>
<rect x="263.3" y="365.7" width="21.2" height="20.6" fill="#b2df8a" stroke="rgba(0,0,0,0.18)" stroke-width="1"/>
<text transform="translate(291.30,381.00) scale(0.7966,1)" font-size="15" text-anchor="start" class="n">Manufacturing</text>
<rect x="465.5" y="307.5" width="21.2" height="20.6" fill="#33a02c" stroke="rgba(0,0,0,0.18)" stroke-width="1"/>
<text transform="translate(493.66,322.80) scale(0.7975,1)" font-size="15" text-anchor="start" class="n">Distribution &amp; retail</text>
<rect x="465.5" y="336.6" width="21.2" height="20.6" fill="#fb9a99" stroke="rgba(0,0,0,0.18)" stroke-width="1"/>
<text transform="translate(494.46,351.90) scale(0.7859,1)" font-size="15" text-anchor="start" class="n">Consumption</text>
</svg>
</body></html>
